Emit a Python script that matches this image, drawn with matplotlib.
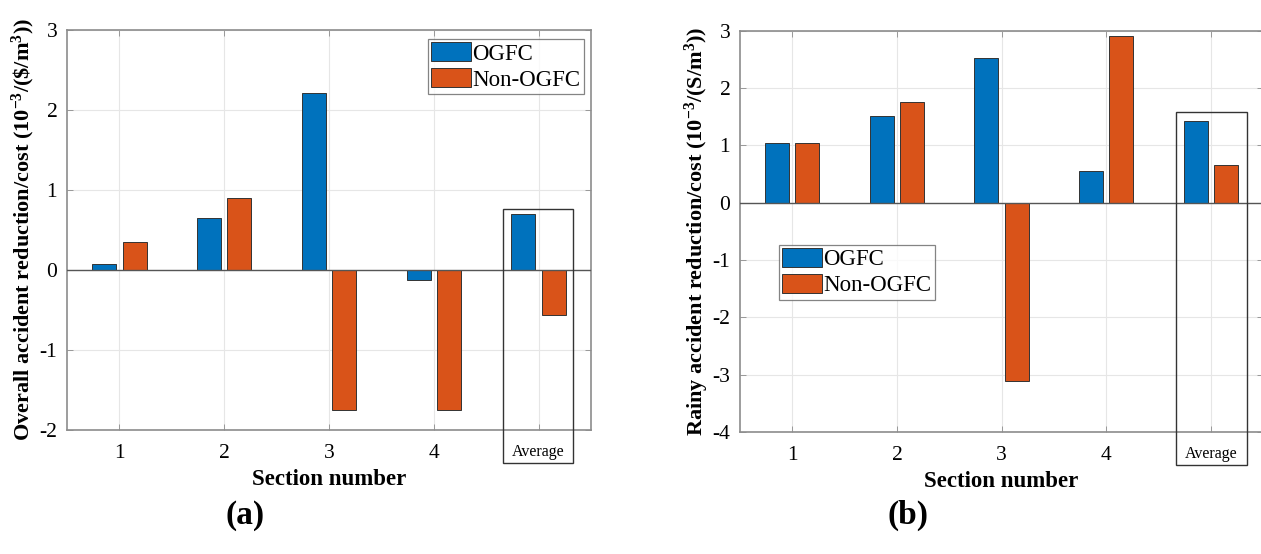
import matplotlib
matplotlib.use("Agg")
import matplotlib.pyplot as plt
from matplotlib.patches import Rectangle
import numpy as np

plt.rcParams['font.family'] = ['Liberation Serif', 'DejaVu Serif']
plt.rcParams['mathtext.fontset'] = 'custom'
plt.rcParams['mathtext.rm'] = 'Liberation Serif:bold'
plt.rcParams['mathtext.bf'] = 'Liberation Serif:bold'
plt.rcParams['mathtext.default'] = 'rm'

# ---- data ----
categories = ['1', '2', '3', '4', 'Average']
series_names = ['OGFC', 'Non-OGFC']
overall_ogfc = [0.08, 0.65, 2.21, -0.12, 0.70]
overall_non = [0.35, 0.90, -1.75, -1.75, -0.56]
rainy_ogfc = [1.04, 1.52, 2.52, 0.55, 1.42]
rainy_non = [1.04, 1.76, -3.11, 2.91, 0.65]

ylabel_a = 'Overall accident reduction/cost (10$^{-3}$/(\\$/m$^{3}$))'
ylabel_b = 'Rainy accident reduction/cost (10$^{-3}$/(S/m$^{3}$))'
xlabel = 'Section number'

BLUE = '#0072BD'
ORANGE = '#D95319'
GRID = '#E6E6E6'
SPINE = '#8C8C8C'

fig = plt.figure(figsize=(12.61, 5.54), dpi=100)
ax_a = fig.add_axes([67 / 1261, 1 - 430 / 554, 524 / 1261, 400 / 554])
ax_b = fig.add_axes([740 / 1261, 1 - 432 / 554, 523 / 1261, 401.3 / 554])


def draw(ax, ogfc, non, ylim, yticks, ylabel, box, legend_box, panel, panel_x,
         ylab_x, xlab_y):
    x = np.arange(1, len(categories) + 1)
    w = 0.23
    off = 0.145
    ax.bar(x - off, ogfc, w, color=BLUE, edgecolor='#333333', linewidth=0.7,
           label=series_names[0], zorder=3)
    ax.bar(x + off, non, w, color=ORANGE, edgecolor='#333333', linewidth=0.7,
           label=series_names[1], zorder=3)
    ax.axhline(0, color='#555555', lw=1.0, zorder=4)
    ax.set_xlim(0.5, 5.5)
    ax.set_ylim(*ylim)
    ax.set_yticks(yticks)
    ax.set_yticklabels([str(t) for t in yticks])
    ax.set_xticks(x)
    ax.set_xticklabels(categories)
    for lab in ax.get_xticklabels():
        if lab.get_text() == 'Average':
            lab.set_fontsize(11.5)
        else:
            lab.set_fontsize(15.5)
    ax.tick_params(axis='y', labelsize=15.5, pad=7)
    ax.tick_params(axis='x', pad=10)
    ax.tick_params(direction='in', length=4, width=0.6, color=SPINE,
                   top=True, right=True)
    ax.grid(True, color=GRID, lw=0.8, zorder=0)
    ax.set_axisbelow(True)
    for s in ax.spines.values():
        s.set_color(SPINE)
        s.set_linewidth(1.2)
    ax.set_ylabel(ylabel, fontsize=16, fontweight='bold')
    ax.yaxis.set_label_coords(ylab_x, 0.5)
    ax.set_xlabel(xlabel, fontsize=16.5, fontweight='bold')
    ax.xaxis.set_label_coords(0.5, xlab_y)
    # highlight box around Average
    x0, x1, y0, y1 = box
    ax.add_patch(Rectangle((x0, y0), x1 - x0, y1 - y0, fill=False,
                           edgecolor='#333333', lw=1.0, clip_on=False, zorder=5))
    lx0, lx1, ly0, ly1 = legend_box
    leg = ax.legend(loc='upper left', bbox_to_anchor=(lx0, ly0, lx1 - lx0, ly1 - ly0),
                    bbox_transform=ax.transData, fontsize=16.5,
                    frameon=True, fancybox=False, edgecolor='#666666',
                    handlelength=1.75, handleheight=0.9, handletextpad=0.05,
                    labelspacing=0.15, borderpad=0.15, borderaxespad=0.0)
    leg.get_frame().set_linewidth(0.9)
    fig.text(panel_x, 0.07, panel, fontsize=24, fontweight='bold',
             ha='center', va='center')


draw(ax_a, overall_ogfc, overall_non, (-2, 3), [-2, -1, 0, 1, 2, 3], ylabel_a,
     (4.66, 5.33, -2.41, 0.76), (3.94, 5.41, 2.19, 2.89), '(a)', 245 / 1261,
     -0.058, -0.097)
draw(ax_b, rainy_ogfc, rainy_non, (-4, 3), [-4, -3, -2, -1, 0, 1, 2, 3], ylabel_b,
     (4.67, 5.35, -4.58, 1.58), (0.87, 2.32, -1.70, -0.73), '(b)', 908 / 1261,
     -0.055, -0.097)

fig.savefig('out.png', dpi=100)
